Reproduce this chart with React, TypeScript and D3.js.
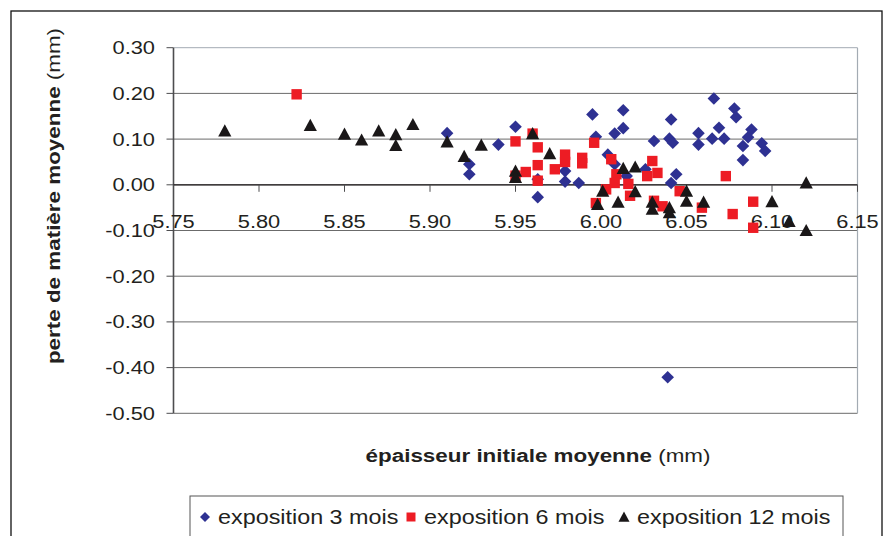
import * as d3 from "d3";

// tick values
const xTicks = [5.75, 5.8, 5.85, 5.9, 5.95, 6.0, 6.05, 6.1, 6.15];
const yTicks = [0.3, 0.2, 0.1, 0, -0.1, -0.2, -0.3, -0.4, -0.5];

const seriesNames = ["exposition 3 mois", "exposition 6 mois", "exposition 12 mois"];

// [épaisseur initiale, perte de matière]
const mois3: [number, number][] = [
  [5.91, 0.113], [5.923, 0.045], [5.923, 0.023], [5.94, 0.088], [5.95, 0.127],
  [5.963, -0.027], [5.963, 0.012], [5.979, 0.03], [5.979, 0.007], [5.987, 0.004],
  [5.995, 0.154], [5.997, 0.105], [6.004, 0.066], [6.008, 0.045], [6.008, 0.112],
  [6.013, 0.124], [6.013, 0.163], [6.015, 0.019], [6.026, 0.034], [6.031, 0.096],
  [6.041, 0.143], [6.04, 0.101], [6.042, 0.092], [6.044, 0.023], [6.041, 0.004],
  [6.039, -0.421], [6.057, 0.113], [6.057, 0.088], [6.066, 0.189], [6.065, 0.101],
  [6.069, 0.125], [6.072, 0.101], [6.078, 0.167], [6.079, 0.148], [6.083, 0.054],
  [6.083, 0.085], [6.086, 0.104], [6.088, 0.121], [6.094, 0.091], [6.096, 0.074],
];

const mois6: [number, number][] = [
  [5.822, 0.198], [5.95, 0.095], [5.95, 0.02], [5.956, 0.028], [5.96, 0.112],
  [5.963, 0.082], [5.963, 0.043], [5.963, 0.009], [5.973, 0.034], [5.979, 0.066],
  [5.979, 0.05], [5.989, 0.059], [5.989, 0.047], [5.996, 0.092], [5.997, -0.04],
  [6.003, -0.01], [6.006, 0.056], [6.009, 0.023], [6.008, 0.004], [6.016, 0.002],
  [6.017, -0.024], [6.027, 0.019], [6.03, 0.052], [6.033, 0.026], [6.031, -0.035],
  [6.036, -0.047], [6.046, -0.014], [6.059, -0.05], [6.073, 0.019], [6.077, -0.064],
  [6.089, -0.037], [6.089, -0.094],
];

const mois12: [number, number][] = [
  [5.78, 0.118], [5.83, 0.13], [5.85, 0.111], [5.86, 0.098], [5.87, 0.118],
  [5.88, 0.11], [5.88, 0.086], [5.89, 0.132], [5.91, 0.094], [5.92, 0.062],
  [5.93, 0.087], [5.95, 0.03], [5.95, 0.016], [5.96, 0.112], [5.97, 0.068],
  [5.998, -0.043], [6.001, -0.014], [6.01, -0.038], [6.013, 0.036], [6.02, 0.039],
  [6.02, -0.015], [6.03, -0.038], [6.03, -0.053], [6.04, -0.05], [6.04, -0.061],
  [6.05, -0.014], [6.05, -0.036], [6.06, -0.038], [6.1, -0.037], [6.11, -0.08],
  [6.12, 0.004], [6.12, -0.1],
];

const W = 885;
const H = 536;
const plot = { left: 173.5, right: 857.5, top: 47.7, bottom: 413.3 };
const SX = 1.18; // the original font is wider than Liberation Sans
const FONT = "'Liberation Sans', Arial, Helvetica, sans-serif";
const INK = "#231f20";

const BLUE = "#2e3192";
const RED = "#ed1c24";
const BLACK = "#1a1718";

const diamond = (r: number) => `M0,${-r}L${r},0L0,${r}L${-r},0Z`;
const square = (r: number) => `M${-r},${-r}H${r}V${r}H${-r}Z`;
const triangle = (r: number) => `M0,${-r}L${r},${r * 0.85}L${-r},${r * 0.85}Z`;

function Txt(props: {
  x: number;
  y: number;
  size: number;
  anchor?: string;
  rotate?: number;
  children: any;
}) {
  const { x, y, size, anchor = "start", rotate = 0, children } = props;
  return (
    <text
      transform={`translate(${x},${y}) rotate(${rotate}) scale(${SX},1)`}
      fontSize={size}
      fontFamily={FONT}
      textAnchor={anchor}
      fill={INK}
    >
      {children}
    </text>
  );
}

export default function App() {
  const x = d3.scaleLinear().domain([5.75, 6.15]).range([plot.left, plot.right]);
  const y = d3.scaleLinear().domain([-0.5, 0.3]).range([plot.bottom, plot.top]);
  // plain hyphen for negatives, like the original
  const fmt = (v: number) => d3.format(".2f")(v).replace("\u2212", "-");
  const y0 = y(0);

  const series = [
    { name: seriesNames[0], data: mois3, color: BLUE, path: diamond(6.3), legend: diamond(5) },
    { name: seriesNames[1], data: mois6, color: RED, path: square(5.2), legend: square(4.5) },
    { name: seriesNames[2], data: mois12, color: BLACK, path: triangle(6.6), legend: triangle(5.5) },
  ];

  const legendX = [205, 411, 624];

  return (
    <div style={{ position: "absolute", left: 0, top: 0 }}>
      <svg width={W} height={H} style={{ display: "block", background: "#fff" }}>
        {/* outer chart frame */}
        <rect x={11} y={11} width={871} height={540} fill="none" stroke="#111" strokeWidth={1.3} />

        {/* horizontal grid */}
        {yTicks.map((t) => (
          <line
            key={t}
            x1={plot.left}
            x2={plot.right}
            y1={y(t)}
            y2={y(t)}
            stroke={t === 0.3 ? "#a3abb3" : "#6b6b6b"}
            strokeWidth={1}
          />
        ))}
        <line x1={plot.right} x2={plot.right} y1={plot.top} y2={plot.bottom} stroke="#a3abb3" strokeWidth={1.2} />

        {/* y axis */}
        <line x1={plot.left} x2={plot.left} y1={plot.top} y2={plot.bottom} stroke="#4d4d4f" strokeWidth={1.6} />
        {yTicks.map((t) => (
          <g key={"yt" + t}>
            <line x1={plot.left - 7} x2={plot.left} y1={y(t)} y2={y(t)} stroke="#4d4d4f" strokeWidth={1} />
            <Txt x={155} y={y(t) + 6.5} size={18.5} anchor="end">
              {fmt(t)}
            </Txt>
          </g>
        ))}

        {/* x axis crossing at 0 */}
        <line x1={plot.left} x2={plot.right} y1={y0} y2={y0} stroke="#231f20" strokeWidth={1.2} />
        {xTicks.map((t) => (
          <g key={"xt" + t}>
            <line x1={x(t)} x2={x(t)} y1={y0} y2={y0 + 7} stroke="#4d4d4f" strokeWidth={1} />
            <Txt x={x(t)} y={228} size={18.5} anchor="middle">
              {fmt(t)}
            </Txt>
          </g>
        ))}

        {/* points */}
        {series.map((s) => (
          <g key={s.name} fill={s.color}>
            {s.data.map((d, i) => (
              <path key={i} d={s.path} transform={`translate(${x(d[0])},${y(d[1])})`} />
            ))}
          </g>
        ))}

        {/* axis titles */}
        <Txt x={538} y={462} size={19} anchor="middle">
          <tspan fontWeight="bold">épaisseur initiale moyenne</tspan>
          <tspan> (mm)</tspan>
        </Txt>
        <Txt x={60} y={196} size={19} anchor="middle" rotate={-90}>
          <tspan fontWeight="bold">perte de matière moyenne</tspan>
          <tspan> (mm)</tspan>
        </Txt>

        {/* legend */}
        <rect x={190} y={496} width={653} height={44} fill="#fff" stroke="#555" strokeWidth={1} />
        {series.map((s, i) => (
          <g key={"lg" + s.name}>
            <path d={s.legend} fill={s.color} transform={`translate(${legendX[i]},517)`} />
            <Txt x={legendX[i] + 13} y={524} size={19.8}>
              {s.name}
            </Txt>
          </g>
        ))}
      </svg>
    </div>
  );
}
